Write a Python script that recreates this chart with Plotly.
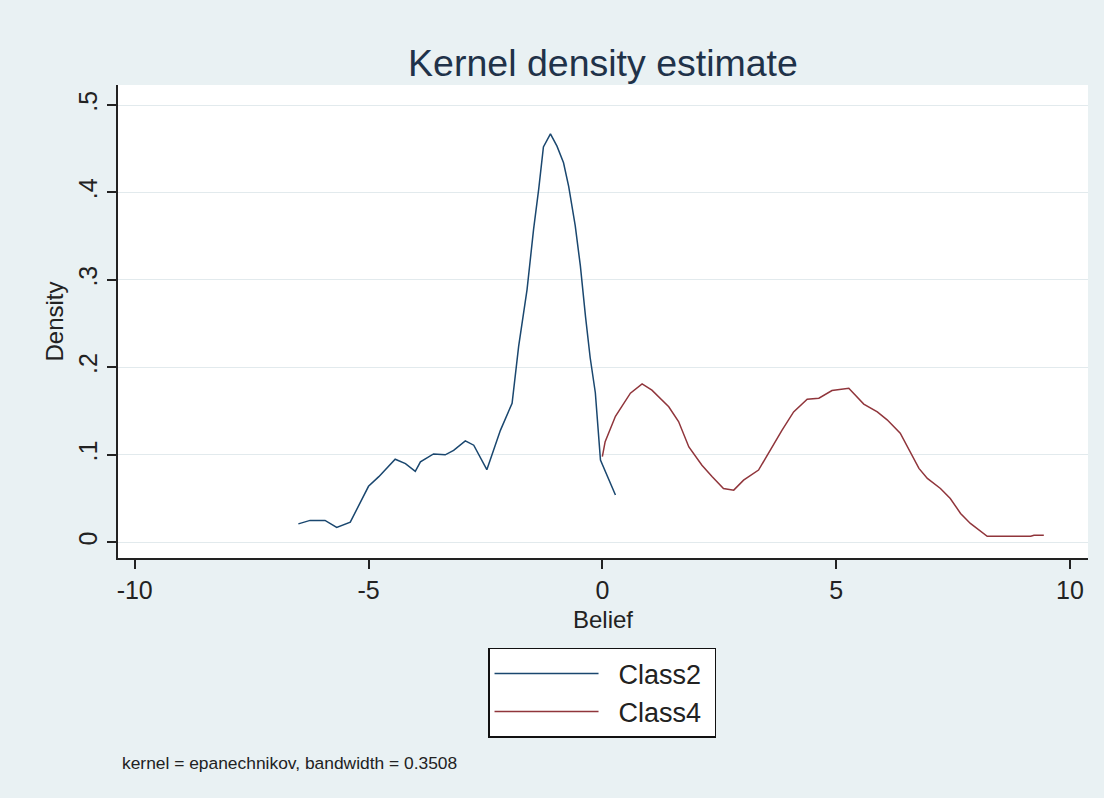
import plotly.graph_objects as go

# ---- data ----
class2_x = [-6.50, -6.25, -5.93, -5.68, -5.39, -5.00, -4.78, -4.43, -4.21, -4.00,
            -3.89, -3.61, -3.36, -3.18, -2.93, -2.75, -2.47, -2.18, -1.93, -1.79,
            -1.61, -1.47, -1.36, -1.26, -1.11, -0.97, -0.83, -0.72, -0.58, -0.47,
            -0.36, -0.26, -0.15, -0.04, 0.28]
class2_y = [0.021, 0.025, 0.025, 0.017, 0.023, 0.064, 0.075, 0.095, 0.090, 0.081,
            0.092, 0.101, 0.100, 0.105, 0.116, 0.111, 0.083, 0.128, 0.159, 0.224,
            0.289, 0.358, 0.404, 0.452, 0.467, 0.453, 0.434, 0.407, 0.362, 0.316,
            0.258, 0.211, 0.171, 0.094, 0.054]

class4_x = [0.00, 0.06, 0.28, 0.46, 0.60, 0.85, 1.06, 1.42, 1.63, 1.85,
            2.13, 2.35, 2.59, 2.81, 3.02, 3.34, 3.59, 3.84, 4.09, 4.38,
            4.63, 4.91, 5.27, 5.59, 5.88, 6.09, 6.37, 6.59, 6.77, 6.95,
            7.23, 7.44, 7.66, 7.87, 8.23, 9.16, 9.23, 9.44]
class4_y = [0.098, 0.115, 0.144, 0.159, 0.1705, 0.181, 0.174, 0.155, 0.138, 0.109,
            0.088, 0.075, 0.0615, 0.0596, 0.071, 0.0826, 0.1055, 0.128, 0.149, 0.1636,
            0.1648, 0.1735, 0.176, 0.158, 0.149, 0.140, 0.1247, 0.102, 0.0845, 0.073,
            0.0615, 0.050, 0.033, 0.0215, 0.0069, 0.0069, 0.008, 0.008]

series_names = ["Class2", "Class4"]
x_ticks = [-10, -5, 0, 5, 10]
x_ticklabels = ["-10", "-5", "0", "5", "10"]
y_ticks = [0, 0.1, 0.2, 0.3, 0.4, 0.5]
y_ticklabels = ["0", ".1", ".2", ".3", ".4", ".5"]

title_text = "Kernel density estimate"
x_title = "Belief"
y_title = "Density"
note_text = "kernel = epanechnikov, bandwidth = 0.3508"

FONT = "Liberation Sans, Arial, sans-serif"
BG = "#e9f1f3"
C2 = "#1a476f"
C4 = "#90353b"
NB = "\u00a0"

fig = go.Figure()
fig.add_trace(go.Scatter(x=class2_x, y=class2_y, mode="lines",
                         name=NB * 2 + series_names[0] + NB,
                         line=dict(color=C2, width=1.5)))
fig.add_trace(go.Scatter(x=class4_x, y=class4_y, mode="lines",
                         name=NB * 2 + series_names[1] + NB,
                         line=dict(color=C4, width=1.5)))

fig.update_layout(
    width=1104, height=798,
    margin=dict(l=118, r=16, t=85, b=240),
    paper_bgcolor=BG, plot_bgcolor="white",
    font=dict(family=FONT, color="#222222", size=24),
    title=dict(text=title_text, x=0.5, xref="paper", xanchor="center",
               y=1 - 63 / 798, yref="container", yanchor="middle",
               font=dict(family=FONT, size=37.5, color="#1f3249")),
    showlegend=True,
    legend=dict(x=0.499, y=-0.19, xanchor="center", yanchor="top",
                xref="paper", yref="paper",
                bgcolor="white", bordercolor="#111111", borderwidth=1.5,
                font=dict(family=FONT, size=27, color="#222222"),
                itemwidth=104, tracegroupgap=0),
    xaxis=dict(range=[-10.357, 10.385], tickvals=x_ticks, ticktext=x_ticklabels,
               showgrid=False, zeroline=False, showline=True, linecolor="#222222",
               linewidth=1.5, ticks="outside", ticklen=9, tickwidth=1.5,
               tickcolor="#222222", tickfont=dict(size=25, color="#222222"),
               title=dict(text=x_title, standoff=8, font=dict(size=24, color="#222222"))),
    yaxis=dict(range=[-0.018, 0.5229], tickvals=y_ticks, ticktext=y_ticklabels,
               showgrid=True, gridcolor="#e2eaed", gridwidth=1,
               zeroline=False, showline=True, linecolor="#222222",
               linewidth=1.5, ticks="outside", ticklen=9, tickwidth=1.5,
               tickcolor="#222222", tickangle=-90,
               tickfont=dict(size=25, color="#222222"),
               title=dict(text=y_title, standoff=4, font=dict(size=24, color="#222222"))),
)

fig.add_annotation(text=note_text, xref="paper", yref="paper",
                   x=0.002, y=(558 - 763) / 473, xanchor="left", yanchor="middle",
                   showarrow=False, font=dict(family=FONT, size=17.4, color="#222222"))

fig.write_html("out.html",
               config={"displayModeBar": False},
               post_script="document.body.style.margin='0px';"
                           "document.body.style.background='" + BG + "';")
